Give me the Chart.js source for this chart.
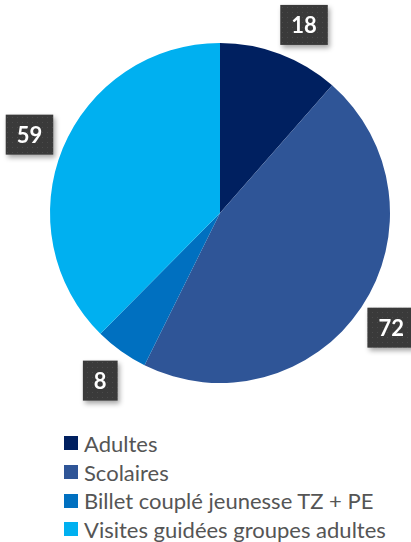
<!DOCTYPE html>
<html lang="fr">
<head>
  <meta charset="UTF-8">
  <title>Répartition des visiteurs</title>
  <script src="https://cdn.jsdelivr.net/npm/chart.js"></script>
  <style>
    html, body { margin: 0; padding: 0; background: #fff; }
    #wrap { position: relative; width: 411px; height: 542px; }
    #chartBox { position: absolute; left: 0; top: 0; width: 411px; height: 420px; }
    #legend { position: absolute; left: 64px; top: 429px; margin: 0; padding: 0; list-style: none;
      font-family: Lato, "Open Sans", sans-serif; font-size: 22px; color: #555555; }
    #legend li { display: flex; align-items: center; height: 28.7px; white-space: nowrap; }
    #legend span.box { display: inline-block; width: 14px; height: 14px; margin-right: 6px; }
  </style>
</head>
<body>
  <div id="wrap">
    <div id="chartBox"><canvas id="myChart"></canvas></div>
    <ul id="legend"></ul>
  </div>

  <script>
    // Données
    const categories = ['Adultes', 'Scolaires', 'Billet couplé jeunesse TZ + PE', 'Visites guidées groupes adultes'];
    const valeurs = [18, 72, 8, 59];
    const couleurs = ['#002060', '#2F5597', '#0070C0', '#00B0F0'];

    // Motif pointillé pour les étiquettes
    function makePattern(ctx) {
      const c = document.createElement('canvas');
      c.width = 5; c.height = 5;
      const p = c.getContext('2d');
      p.fillStyle = '#3a3a3a';
      p.fillRect(0, 0, 5, 5);
      p.fillStyle = '#4b4b4b';
      p.fillRect(2, 2, 1, 1);
      return ctx.createPattern(c, 'repeat');
    }

    // Étiquettes dans des boîtes sombres autour du camembert
    const boxLabels = {
      id: 'boxLabels',
      afterDatasetsDraw(chart) {
        const ctx = chart.ctx;
        const meta = chart.getDatasetMeta(0);
        const pattern = makePattern(ctx);
        ctx.save();
        ctx.font = 'bold 22px Lato, "Open Sans", sans-serif';
        ctx.textAlign = 'center';
        ctx.textBaseline = 'middle';
        meta.data.forEach((arc, i) => {
          // un peu décalé dans le sens horaire, comme dans l'original
          const mid = (arc.startAngle + arc.endAngle) / 2 + (i === 0 ? 0.06 : 0);
          const r = arc.outerRadius + 36;
          const x = arc.x + Math.cos(mid) * r;
          const y = arc.y + Math.sin(mid) * r;
          const txt = String(valeurs[i]);
          const w = Math.max(ctx.measureText(txt).width + 22, 26);
          const h = 40;
          ctx.save();
          ctx.shadowColor = 'rgba(0,0,0,0.35)';
          ctx.shadowBlur = 5;
          ctx.shadowOffsetX = 2;
          ctx.shadowOffsetY = 3;
          ctx.fillStyle = pattern;
          ctx.fillRect(x - w / 2, y - h / 2, w, h);
          ctx.restore();
          ctx.fillStyle = '#ffffff';
          ctx.fillText(txt, x, y + 1);
        });
        ctx.restore();
      }
    };

    const ctx = document.getElementById('myChart').getContext('2d');
    const chart = new Chart(ctx, {
      type: 'pie',
      data: {
        labels: categories,
        datasets: [{
          data: valeurs,
          backgroundColor: couleurs,
          borderWidth: 0
        }]
      },
      options: {
        responsive: true,
        maintainAspectRatio: false,
        animation: false,
        layout: { padding: { left: 50, right: 21, top: 43, bottom: 37 } },
        plugins: {
          legend: { display: false },
          tooltip: { enabled: false }
        }
      },
      plugins: [boxLabels]
    });

    // Légende HTML
    const legend = document.getElementById('legend');
    categories.forEach((c, i) => {
      const li = document.createElement('li');
      li.innerHTML = '<span class="box" style="background:' + couleurs[i] + '"></span>' + c;
      legend.appendChild(li);
    });
  </script>
</body>
</html>
